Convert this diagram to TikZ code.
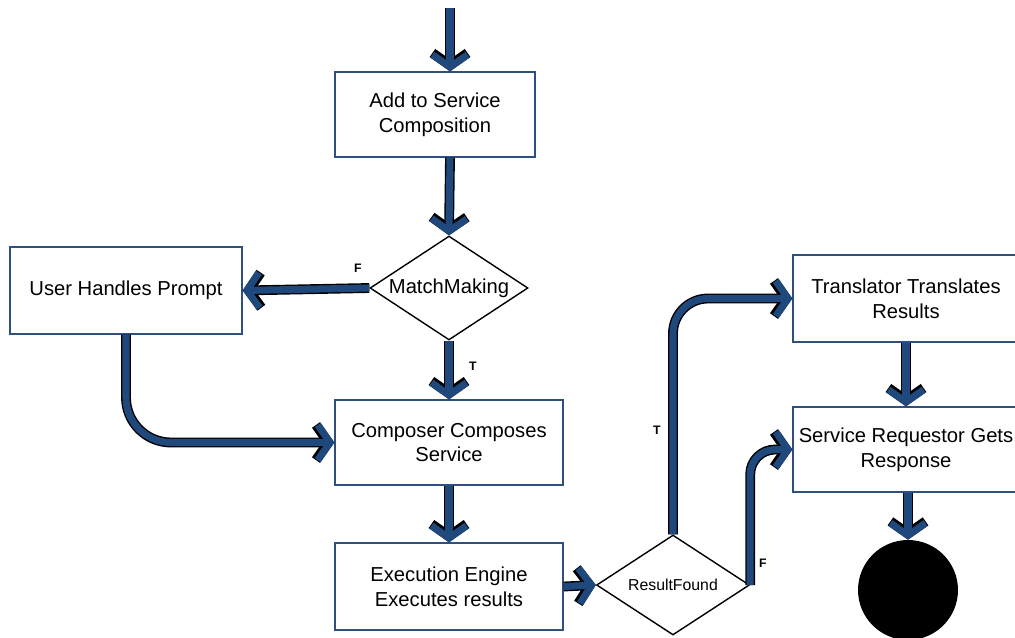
\documentclass[tikz,border=0pt]{standalone}
\usepackage{fontspec}
\setmainfont{Liberation Sans}
\usepackage{tikz}
\usetikzlibrary{arrows.meta, positioning, shapes.geometric, calc}
\definecolor{flowblue}{RGB}{31,73,125}
\definecolor{edgeblue}{RGB}{47,79,127}

\begin{document}
\begin{tikzpicture}[x=0.02cm, y=-0.02cm, font=\fontsize{11.5}{14}\selectfont,
  box/.style={draw=edgeblue, line width=0.8pt, fill=white, align=center, inner sep=0pt},
  decision/.style={diamond, draw=black, line width=0.8pt, fill=white, inner sep=0pt},
  flow/.style={line width=4pt, draw=flowblue, -{Straight Barb[length=7pt, width=20pt]},
    preaction={draw=black, line width=5.6pt}},
  tf/.style={font=\fontsize{7}{8}\selectfont\bfseries, inner sep=0pt}]
  \useasboundingbox (0,0) rectangle (1015,637);

  % Main column
  \coordinate (start) at (450,8);
  \node[box, minimum width=4cm, minimum height=1.7cm] (add) at (435,114.5) {Add to Service\\Composition};
  \node[decision, aspect=1.52, minimum width=3.16cm, minimum height=2.08cm] (mm) at (449,288) {MatchMaking};
  \node[box, minimum width=4.64cm, minimum height=1.74cm] (user) at (126,290.5) {User Handles Prompt};
  \node[box, minimum width=4.56cm, minimum height=1.7cm] (comp) at (449,442.5) {Composer Composes\\Service};
  \node[box, minimum width=4.56cm, minimum height=1.74cm] (exec) at (449,586.5) {Execution Engine\\Executes results};

  % Result side
  \node[decision, aspect=1.53, minimum width=3.06cm, minimum height=2cm, font=\fontsize{9}{10}\selectfont] (rf) at (673,585) {ResultFound};
  \node[box, minimum width=4.52cm, minimum height=1.74cm] (trans) at (906,298.5) {Translator Translates\\Results};
  \node[box, minimum width=4.52cm, minimum height=1.7cm] (sr) at (906,449.5) {Service Requestor Gets\\Response};
  \node[circle, fill=black, minimum size=2cm] (stop) at (908,590) {};

  % Branch labels
  \node[tf] (lf1) at (358,268) {F};
  \node[tf] (lt1) at (473,366) {T};
  \node[tf] (lt2) at (657,430) {T};
  \node[tf] (lf2) at (763,563) {F};

  % Connectors
  \draw[flow] (start) -- (add.north -| start);
  \draw[flow] (add.south -| start) -- (mm.north);
  \draw[flow] (mm.west) -- (user.east);
  \draw[flow] (mm.south) -- (comp.north);
  \draw[flow, rounded corners=0.9cm] (user.south) |- (comp.west);
  \draw[flow] (comp.south) -- (exec.north);
  \draw[flow] (exec.east) -- (rf.west);
  \draw[flow, rounded corners=0.7cm] (rf.north) |- (trans.west);
  \draw[flow, rounded corners=0.5cm] (rf.east) |- (sr.west);
  \draw[flow] (trans.south -| sr.north) -- (sr.north);
  \draw[flow] (sr.south -| stop.north) -- (stop.north);
\end{tikzpicture}
\end{document}
